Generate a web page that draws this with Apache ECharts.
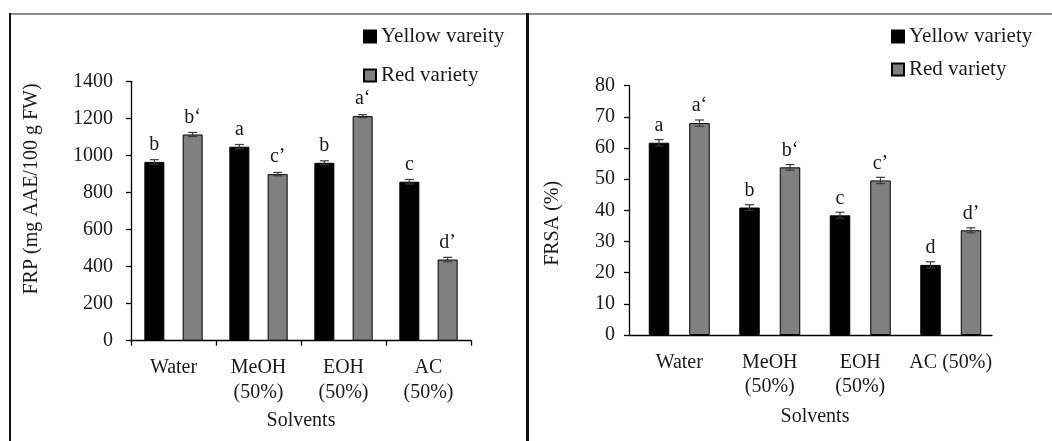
<!DOCTYPE html>
<html><head><meta charset="utf-8">
<script src="https://cdn.jsdelivr.net/npm/echarts@6/dist/echarts.min.js"></script>
<style>
html,body{margin:0;padding:0;background:#fff;width:1052px;height:441px;overflow:hidden;position:relative}
#c1{position:absolute;left:0;top:0;width:527px;height:441px}
#c2{position:absolute;left:527px;top:0;width:525px;height:441px}
.ln{position:absolute;}
</style></head><body>
<div id="c1"></div><div id="c2"></div>
<div class="ln" style="left:10px;top:13px;width:1042px;height:1.5px;background:#8c8c8c"></div>
<div class="ln" style="left:9px;top:13px;width:2px;height:428px;background:#111"></div>
<div class="ln" style="left:526px;top:13px;width:2.5px;height:428px;background:#111"></div>
<script>
// ---- data ----
const categoriesFRP = ['Water', 'MeOH\n(50%)', 'EOH\n(50%)', 'AC\n(50%)'];
const categoriesFRSA = ['Water', 'MeOH\n(50%)', 'EOH\n(50%)', 'AC (50%)'];
const seriesNamesFRP = ['Yellow vareity', 'Red variety'];
const seriesNamesFRSA = ['Yellow variety', 'Red variety'];
const frpYellow = [965, 1047, 960, 858];
const frpRed = [1113, 899, 1212, 438];
const frpYellowErr = [12, 12, 11, 12];
const frpRedErr = [11, 9, 8, 12];
const frpYellowLetters = ['b', 'a', 'b', 'c'];
const frpRedLetters = ['b\u2018', 'c\u2019', 'a\u2018', 'd\u2019'];
const frsaYellow = [61.7, 40.9, 38.4, 22.5];
const frsaRed = [68.0, 53.8, 49.6, 33.6];
const frsaYellowErr = [1.0, 0.9, 1.0, 1.0];
const frsaRedErr = [1.0, 0.9, 1.0, 0.8];
const frsaYellowLetters = ['a', 'b', 'c', 'd'];
const frsaRedLetters = ['a\u2018', 'b\u2018', 'c\u2019', 'd\u2019'];
const frpTicks = {min: 0, max: 1400, interval: 200};
const frsaTicks = {min: 0, max: 80, interval: 10};

const FONT = '"Liberation Serif", "Times New Roman", serif';
const TXT = '#1a1a1a';
const FS = 20;

function errSeries(vals, errs, side, barW, gapPx, xAxisIndex, yAxisIndex) {
  return {
    type: 'custom', xAxisIndex, yAxisIndex, silent: true, z: 5,
    data: vals.map((v, i) => [i, v, errs[i]]),
    renderItem: function (params, api) {
      const i = api.value(0), v = api.value(1), e = api.value(2);
      const c = api.coord([i, v]);
      const x = c[0] + side * (barW + gapPx) / 2;
      const yHi = api.coord([i, v + e])[1];
      const yLo = api.coord([i, v - e])[1];
      const cap = 4.5;
      const st = {stroke: '#3a3a3a', lineWidth: 1.2};
      return {type: 'group', children: [
        {type: 'line', shape: {x1: x, y1: yHi, x2: x, y2: yLo}, style: st},
        {type: 'line', shape: {x1: x - cap, y1: yHi, x2: x + cap, y2: yHi}, style: st},
        {type: 'line', shape: {x1: x - cap, y1: yLo, x2: x + cap, y2: yLo}, style: st}
      ]};
    }
  };
}

function barSeries(name, vals, letters, color, barW, gapPct, xAxisIndex, yAxisIndex) {
  return {
    name, type: 'bar', xAxisIndex, yAxisIndex,
    data: vals, barWidth: barW, barGap: gapPct,
    itemStyle: {color, borderColor: '#000', borderWidth: 1},
    label: {show: true, position: 'top', distance: 7,
      formatter: p => letters[p.dataIndex],
      fontFamily: FONT, fontSize: FS, color: TXT},
    z: 3
  };
}

// ---- Chart 1: FRP ----
const c1 = echarts.init(document.getElementById('c1'));
const w1 = 20, g1 = 18.3;
c1.setOption({
  animation: false,
  textStyle: {fontFamily: FONT},
  legend: {
    orient: 'vertical', left: 358, top: 21, itemGap: 18,
    itemWidth: 12, itemHeight: 12, icon: 'rect', itemTextGap: 4,
    data: seriesNamesFRP,
    textStyle: {fontFamily: FONT, fontSize: 21, color: TXT}
  },
  grid: {left: 131, top: 81.3, width: 340, height: 259.4, containLabel: false},
  xAxis: {
    type: 'category', data: categoriesFRP,
    axisLine: {lineStyle: {color: '#000', width: 1.3}},
    axisTick: {show: true, length: 5, inside: false, alignWithLabel: false, lineStyle: {color: '#000', width: 1.3}},
    axisLabel: {fontFamily: FONT, fontSize: FS, color: TXT, lineHeight: 25, margin: 15, interval: 0},
    name: 'Solvents', nameLocation: 'middle', nameGap: 70,
    nameTextStyle: {fontFamily: FONT, fontSize: FS, color: TXT}
  },
  yAxis: {
    type: 'value', min: frpTicks.min, max: frpTicks.max, interval: frpTicks.interval,
    axisLine: {show: true, lineStyle: {color: '#000', width: 1.3}},
    axisTick: {show: true, length: 5, lineStyle: {color: '#000', width: 1.3}},
    splitLine: {show: false},
    axisLabel: {fontFamily: FONT, fontSize: FS, color: TXT, margin: 18, formatter: v => String(v)},
    name: 'FRP (mg AAE/100 g FW)', nameLocation: 'middle', nameGap: 89, nameRotate: 90,
    nameTextStyle: {fontFamily: FONT, fontSize: FS, color: TXT, padding: [0, 0, 0, 44]}
  },
  series: [
    barSeries(seriesNamesFRP[0], frpYellow, frpYellowLetters, '#000000', w1, (g1 / w1 * 100) + '%', 0, 0),
    barSeries(seriesNamesFRP[1], frpRed, frpRedLetters, '#808080', w1, (g1 / w1 * 100) + '%', 0, 0),
    errSeries(frpYellow, frpYellowErr, -1, w1, g1, 0, 0),
    errSeries(frpRed, frpRedErr, 1, w1, g1, 0, 0)
  ]
});

// ---- Chart 2: FRSA ----
const c2 = echarts.init(document.getElementById('c2'));
const w2 = 20.5, g2 = 20;
const top2 = 85.7, h2 = 249.3;
c2.setOption({
  animation: false,
  textStyle: {fontFamily: FONT},
  legend: {
    orient: 'vertical', left: 359, top: 21, itemGap: 12,
    itemWidth: 12, itemHeight: 12, icon: 'rect', itemTextGap: 4,
    data: seriesNamesFRSA,
    textStyle: {fontFamily: FONT, fontSize: 21, color: TXT}
  },
  grid: [
    {left: 102, top: top2, width: 363, height: h2},
    {left: 107, top: top2, width: 362, height: h2}
  ],
  xAxis: [
    {type: 'value', gridIndex: 0, min: 0, max: 1,
      axisLine: {show: true, onZero: false, lineStyle: {color: '#000', width: 1.3}},
      axisTick: {show: false}, axisLabel: {show: false}, splitLine: {show: false}},
    {type: 'category', gridIndex: 1, data: categoriesFRSA,
      axisLine: {show: false}, axisTick: {show: false},
      axisLabel: {fontFamily: FONT, fontSize: FS, color: TXT, lineHeight: 24, margin: 16, interval: 0},
      name: 'Solvents', nameLocation: 'middle', nameGap: 72,
      nameTextStyle: {fontFamily: FONT, fontSize: FS, color: TXT}}
  ],
  yAxis: [
    {type: 'value', gridIndex: 0, min: frsaTicks.min, max: frsaTicks.max, interval: frsaTicks.interval,
      axisLine: {show: true, lineStyle: {color: '#000', width: 1.3}},
      axisTick: {show: true, length: 5, lineStyle: {color: '#000', width: 1.3}},
      splitLine: {show: false},
      axisLabel: {fontFamily: FONT, fontSize: FS, color: TXT, margin: 14},
      name: 'FRSA (%)', nameLocation: 'middle', nameGap: 66, nameRotate: 90,
      nameTextStyle: {fontFamily: FONT, fontSize: FS, color: TXT, padding: [0, 26, 0, 0]}},
    {type: 'value', gridIndex: 1, min: frsaTicks.min, max: frsaTicks.max, interval: frsaTicks.interval, show: false}
  ],
  series: [
    barSeries(seriesNamesFRSA[0], frsaYellow, frsaYellowLetters, '#000000', w2, (g2 / w2 * 100) + '%', 1, 1),
    barSeries(seriesNamesFRSA[1], frsaRed, frsaRedLetters, '#808080', w2, (g2 / w2 * 100) + '%', 1, 1),
    errSeries(frsaYellow, frsaYellowErr, -1, w2, g2, 1, 1),
    errSeries(frsaRed, frsaRedErr, 1, w2, g2, 1, 1)
  ]
});
</script>
</body></html>
